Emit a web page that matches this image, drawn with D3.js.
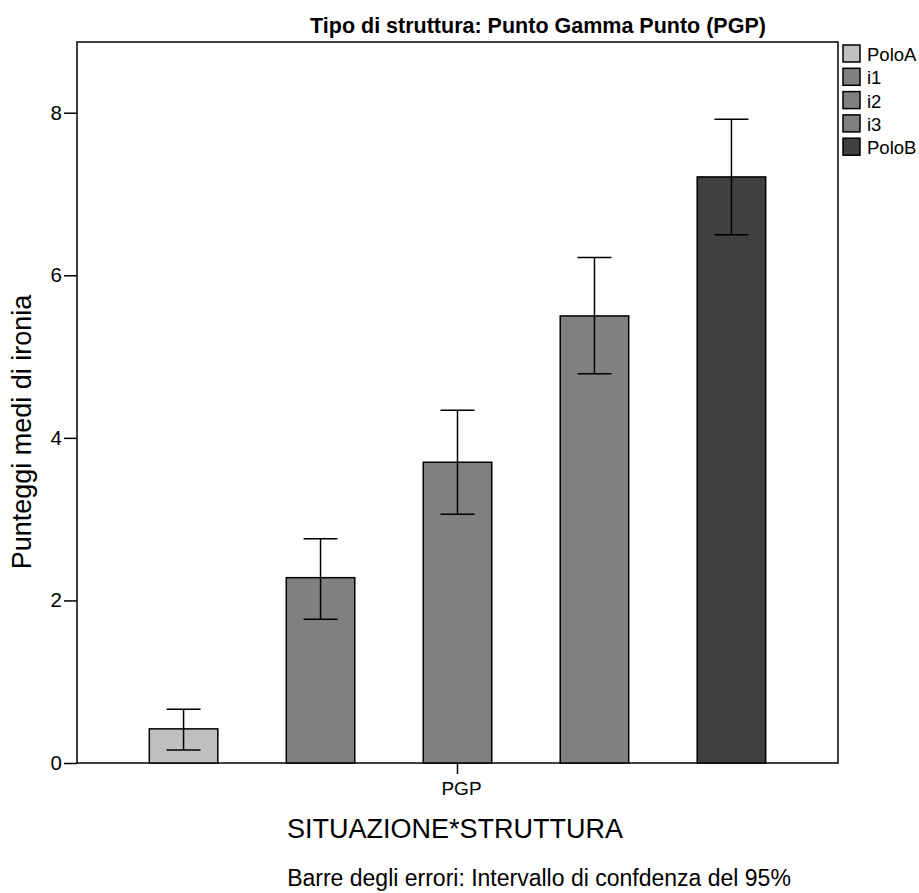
<!DOCTYPE html>
<html>
<head>
<meta charset="utf-8">
<script src="https://cdn.jsdelivr.net/npm/d3@7"></script>
<style>
  body { margin: 0; background: #fff; }
  text { font-family: Arial, "Liberation Sans", sans-serif; fill: #000; }
</style>
</head>
<body>
<svg width="919" height="893"></svg>
<script>
var categories = ["PoloA", "i1", "i2", "i3", "PoloB"];
var means = [0.42, 2.28, 3.70, 5.50, 7.21];
var lower = [0.16, 1.77, 3.06, 4.79, 6.50];
var upper = [0.66, 2.76, 4.34, 6.22, 7.92];
var colors = ["#c0c0c0", "#808080", "#808080", "#808080", "#404040"];
var yTicks = [0, 2, 4, 6, 8];

var svg = d3.select("svg");
var pLeft = 77, pRight = 838, pTop = 42, pBottom = 763;

var y = d3.scaleLinear().domain([0, 8.87]).range([pBottom, pTop]);
var x = d3.scaleBand().domain(categories)
    .range([pLeft, pRight]).paddingInner(0.5).paddingOuter(0.528);

// frame
svg.append("rect")
    .attr("x", pLeft).attr("y", pTop)
    .attr("width", pRight - pLeft).attr("height", pBottom - pTop)
    .attr("fill", "none").attr("stroke", "#000").attr("stroke-width", 1.5);

// bars
svg.selectAll(".bar").data(categories).enter().append("rect")
    .attr("x", function(d) { return x(d); })
    .attr("y", function(d, i) { return y(means[i]); })
    .attr("width", x.bandwidth())
    .attr("height", function(d, i) { return y(0) - y(means[i]); })
    .attr("fill", function(d, i) { return colors[i]; })
    .attr("stroke", "#000").attr("stroke-width", 1.5);

// error bars
var eb = svg.selectAll(".err").data(categories).enter().append("g")
    .attr("stroke", "#000").attr("stroke-width", 1.5);
eb.append("line")
    .attr("x1", function(d) { return x(d) + x.bandwidth() / 2; })
    .attr("x2", function(d) { return x(d) + x.bandwidth() / 2; })
    .attr("y1", function(d, i) { return y(lower[i]); })
    .attr("y2", function(d, i) { return y(upper[i]); });
[lower, upper].forEach(function(arr) {
  eb.append("line")
      .attr("x1", function(d) { return x(d) + x.bandwidth() / 2 - 17; })
      .attr("x2", function(d) { return x(d) + x.bandwidth() / 2 + 17; })
      .attr("y1", function(d, i) { return y(arr[i]); })
      .attr("y2", function(d, i) { return y(arr[i]); });
});

// y axis
var yAxis = svg.append("g")
    .attr("transform", "translate(" + pLeft + ",0)")
    .call(d3.axisLeft(y).tickValues(yTicks).tickSize(13).tickPadding(2));
yAxis.select(".domain").remove();
yAxis.selectAll("line").attr("stroke-width", 1.5);
yAxis.selectAll("text").style("font-size", "20.5px").style("font-family", "Arial, 'Liberation Sans', sans-serif");

// x tick
var xMid = (pLeft + pRight) / 2;
svg.append("line").attr("x1", xMid).attr("x2", xMid)
    .attr("y1", pBottom).attr("y2", pBottom + 11)
    .attr("stroke", "#000").attr("stroke-width", 1.5);
svg.append("text").attr("x", xMid + 4).attr("y", pBottom + 32)
    .attr("text-anchor", "middle").style("font-size", "19px").text("PGP");

// titles
svg.append("text").attr("x", 538).attr("y", 33)
    .attr("text-anchor", "middle").style("font-size", "21.5px").style("font-weight", "bold")
    .text("Tipo di struttura: Punto Gamma Punto (PGP)");
svg.append("text").attr("transform", "translate(31,432) rotate(-90)")
    .attr("text-anchor", "middle").style("font-size", "27px")
    .text("Punteggi medi di ironia");
svg.append("text").attr("x", 455).attr("y", 838)
    .attr("text-anchor", "middle").style("font-size", "27px")
    .text("SITUAZIONE*STRUTTURA");
svg.append("text").attr("x", 539).attr("y", 886)
    .attr("text-anchor", "middle").style("font-size", "23px")
    .text("Barre degli errori: Intervallo di confdenza del 95%");

// legend
var lg = svg.selectAll(".lg").data(categories).enter().append("g")
    .attr("transform", function(d, i) { return "translate(843," + (45 + i * 23.3) + ")"; });
lg.append("rect").attr("width", 17).attr("height", 17)
    .attr("fill", function(d, i) { return colors[i]; })
    .attr("stroke", "#000").attr("stroke-width", 1.5);
lg.append("text").attr("x", 24).attr("y", 16).style("font-size", "18.5px")
    .text(function(d) { return d; });
</script>
</body>
</html>
